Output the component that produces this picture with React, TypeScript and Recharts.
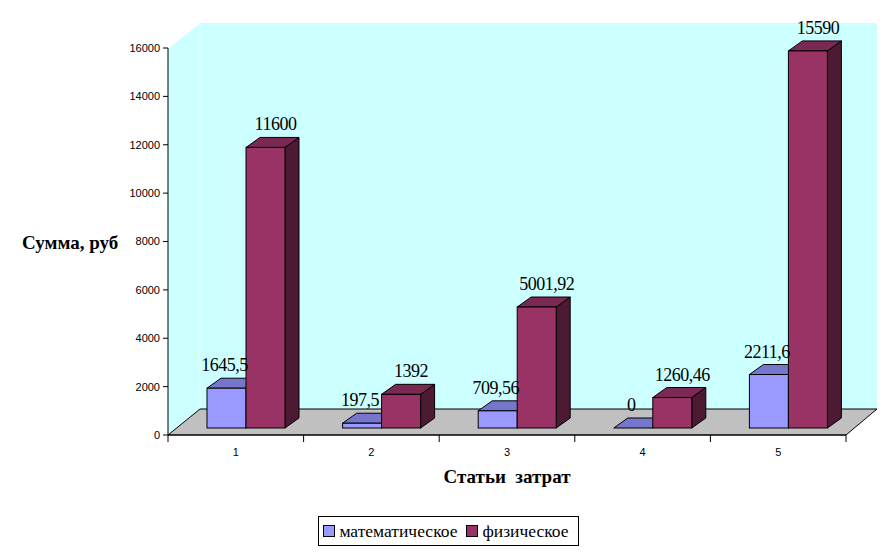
import { BarChart, Bar, XAxis, YAxis, LabelList, Label, Legend } from "recharts";

const categories = ["1", "2", "3", "4", "5"];
const mathValues = [1645.5, 197.5, 709.56, 0, 2211.6];
const physValues = [11600, 1392, 5001.92, 1260.46, 15590];
const yTicks = [0, 2000, 4000, 6000, 8000, 10000, 12000, 14000, 16000];
const seriesNames = ["математическое", "физическое"];

const data = categories.map((c, i) => ({ name: c, math: mathValues[i], phys: physValues[i] }));

const W = 896;
const H = 558;
const PLOT_LEFT = 168;
const PLOT_RIGHT = 846;
const PLOT_TOP = 48;
const PLOT_BOTTOM = 435;
const DEPTH_X = 32;
const DEPTH_Y = 26;
// bars stand a bit back from the front edge of the floor
const BAR_SHIFT_X = 10;
const BAR_SHIFT_Y = -7;
const BAR_DX = 14;
const BAR_DY = 10;

const SERIF = '"Liberation Serif", "Times New Roman", serif';
const SANS = '"Liberation Sans", Arial, sans-serif';

const MATH = { front: "#9999FF", top: "#7676CC", side: "#4D4D80" };
const PHYS = { front: "#993366", top: "#7A2952", side: "#4D1A33" };

const make3DBar = (c: { front: string; top: string; side: string }) => (props: any) => {
  const x = Number(props.x) + BAR_SHIFT_X;
  const y = Number(props.y) + BAR_SHIFT_Y;
  const w = Number(props.width);
  const h = Math.max(0, Number(props.height) || 0);
  const top = `${x},${y} ${x + BAR_DX},${y - BAR_DY} ${x + w + BAR_DX},${y - BAR_DY} ${x + w},${y}`;
  const side = `${x + w},${y} ${x + w + BAR_DX},${y - BAR_DY} ${x + w + BAR_DX},${y + h - BAR_DY} ${x + w},${y + h}`;
  return (
    <g>
      <polygon points={side} fill={c.side} stroke="#000" strokeWidth={1} />
      <polygon points={top} fill={c.top} stroke="#000" strokeWidth={1} />
      <rect x={x} y={y} width={w} height={h} fill={c.front} stroke="#000" strokeWidth={1} />
    </g>
  );
};

const makeLabel = (shift: number) => (props: any) => {
  const vb = props.viewBox && props.viewBox.width != null ? props.viewBox : props;
  const x = Number(vb.x) + Number(vb.width) / 2 + BAR_SHIFT_X + BAR_DX / 2 + shift;
  const y = Number(vb.y) + BAR_SHIFT_Y - 17;
  const text = String(props.value).replace(".", ",");
  return (
    <text x={x} y={y} textAnchor="middle" fontFamily={SERIF} fontSize={18} letterSpacing={-0.5} fill="#000">
      {text}
    </text>
  );
};

const band = (PLOT_RIGHT - PLOT_LEFT) / categories.length;

const XTick = (props: any) => {
  const { x, y, payload, index } = props;
  return (
    <g>
      <line x1={x - band / 2} y1={y} x2={x - band / 2} y2={y + 7} stroke="#000" />
      {index === categories.length - 1 && (
        <line x1={x + band / 2} y1={y} x2={x + band / 2} y2={y + 7} stroke="#000" />
      )}
      <text x={x} y={y + 21} textAnchor="middle" fontFamily={SANS} fontSize={11} fill="#000">
        {payload.value}
      </text>
    </g>
  );
};

const LegendBox = () => (
  <div style={{ display: "flex", justifyContent: "center", paddingLeft: 1 }}>
    <div
      style={{
        boxSizing: "border-box",
        height: 30,
        border: "1px solid #000",
        display: "flex",
        alignItems: "center",
        padding: "0 9px 0 4px",
        fontFamily: SERIF,
        fontSize: 17.5,
        background: "#fff",
      }}
    >
      {[MATH, PHYS].map((c, i) => (
        <span key={i} style={{ display: "flex", alignItems: "center", marginRight: i === 0 ? 9 : 0 }}>
          <span
            style={{
              display: "inline-block",
              boxSizing: "border-box",
              width: 12,
              height: 12,
              background: c.front,
              border: "1px solid #000",
              marginRight: 4,
            }}
          />
          {seriesNames[i]}
        </span>
      ))}
    </div>
  </div>
);

const Backdrop = () => (
  <svg width={W} height={H} style={{ position: "absolute", left: 0, top: 0 }}>
    <polygon
      points={`${PLOT_LEFT},${PLOT_TOP + 1} ${PLOT_LEFT + DEPTH_X},${PLOT_TOP + 1 - DEPTH_Y} ${PLOT_LEFT + DEPTH_X},${PLOT_BOTTOM - DEPTH_Y} ${PLOT_LEFT},${PLOT_BOTTOM}`}
      fill="#CCFFFF"
    />
    <rect
      x={PLOT_LEFT + DEPTH_X}
      y={PLOT_TOP + 1 - DEPTH_Y}
      width={PLOT_RIGHT - PLOT_LEFT - 1}
      height={PLOT_BOTTOM - PLOT_TOP - 1}
      fill="#CCFFFF"
    />
    <line
      x1={PLOT_LEFT + DEPTH_X}
      y1={PLOT_TOP + 1 - DEPTH_Y}
      x2={PLOT_LEFT + DEPTH_X}
      y2={PLOT_BOTTOM - DEPTH_Y}
      stroke="#E8FFFF"
    />
    <polygon
      points={`${PLOT_LEFT},${PLOT_BOTTOM} ${PLOT_LEFT + DEPTH_X},${PLOT_BOTTOM - DEPTH_Y} ${PLOT_RIGHT + DEPTH_X - 1},${PLOT_BOTTOM - DEPTH_Y} ${PLOT_RIGHT},${PLOT_BOTTOM}`}
      fill="#C0C0C0"
      stroke="#000"
      strokeWidth={1}
    />
  </svg>
);

export default function App() {
  return (
    <div style={{ position: "absolute", left: 0, top: 0, width: W, height: H, background: "#fff" }}>
      <Backdrop />
      <div style={{ position: "absolute", left: 0, top: 0 }}>
        <BarChart
          width={W}
          height={H}
          data={data}
          margin={{ top: PLOT_TOP, right: W - PLOT_RIGHT, bottom: 12, left: 0 }}
          barGap={0}
          barSize={39}
        >
          <YAxis
            width={PLOT_LEFT}
            domain={[0, 16000]}
            ticks={yTicks}
            interval={0}
            tickSize={5}
            tickMargin={3}
            axisLine={{ stroke: "#000" }}
            tickLine={{ stroke: "#000" }}
            tick={{ fill: "#000", fontSize: 11, fontFamily: SANS }}
          >
            <Label
              content={(p: any) => {
                const vb = p.viewBox || {};
                return (
                  <text
                    x={22}
                    y={Number(vb.y) + Number(vb.height) / 2 + 7}
                    fontFamily={SERIF}
                    fontWeight="bold"
                    fontSize={19}
                    fill="#000"
                  >
                    Сумма, руб
                  </text>
                );
              }}
            />
          </YAxis>
          <XAxis
            dataKey="name"
            height={81}
            tickSize={0}
            tickMargin={0}
            tickLine={false}
            axisLine={{ stroke: "#000" }}
            tick={<XTick />}
            interval={0}
          >
            <Label
              content={(p: any) => {
                const vb = p.viewBox || {};
                return (
                  <text
                    x={Number(vb.x) + Number(vb.width) / 2}
                    y={Number(vb.y) + 48}
                    textAnchor="middle"
                    fontFamily={SERIF}
                    fontWeight="bold"
                    fontSize={19}
                    fill="#000"
                    style={{ whiteSpace: "pre" }}
                  >
                    {"Статьи  затрат"}
                  </text>
                );
              }}
            />
          </XAxis>
          <Legend
            verticalAlign="bottom"
            content={<LegendBox />}
            wrapperStyle={{ left: 0, width: W }}
          />
          <Bar dataKey="math" name={seriesNames[0]} isAnimationActive={false} shape={make3DBar(MATH)}>
            <LabelList dataKey="math" content={makeLabel(-9)} />
          </Bar>
          <Bar dataKey="phys" name={seriesNames[1]} isAnimationActive={false} shape={make3DBar(PHYS)}>
            <LabelList dataKey="phys" content={makeLabel(3)} />
          </Bar>
        </BarChart>
      </div>
    </div>
  );
}
